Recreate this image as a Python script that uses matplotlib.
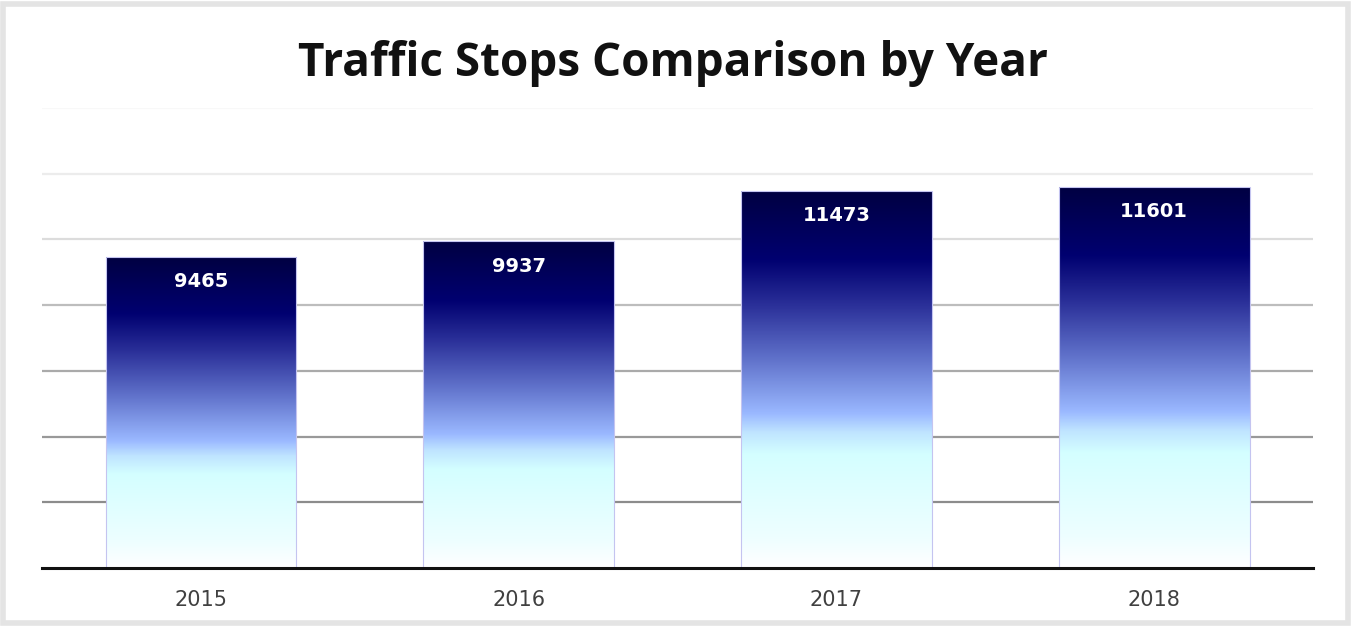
import numpy as np
import matplotlib
matplotlib.use('Agg')
import matplotlib.pyplot as plt
from matplotlib.colors import LinearSegmentedColormap
from matplotlib.patches import Rectangle

years = ['2015', '2016', '2017', '2018']
stops = [9465, 9937, 11473, 11601]
grid_levels = [2000, 4000, 6000, 8000, 10000, 12000, 14000]
grid_colors = ['#8c8c8c', '#999999', '#aaaaaa', '#bdbdbd', '#dcdcdc', '#ececec', '#f8f8f8']

plt.rcParams['font.family'] = ['Open Sans', 'DejaVu Sans']

# gradient, bottom -> top
bar_cmap = LinearSegmentedColormap.from_list('bars', [
    (0.0, '#ffffff'),
    (0.08, '#eefeff'),
    (0.30, '#d4ffff'),
    (0.36, '#bfe4ff'),
    (0.41, '#9ab8ff'),
    (0.55, '#6274cc'),
    (0.70, '#2a2f98'),
    (0.82, '#000070'),
    (1.0, '#000042'),
])

fig = plt.figure(figsize=(13.53, 6.26), dpi=100)
fig.patch.set_facecolor('white')
ax = fig.add_axes([0.031, 0.0927, 0.9395, 0.7348])

x = np.arange(len(years))
bars = ax.bar(x, stops, width=0.6, color='none', edgecolor='#c4c4f0', linewidth=0.8, zorder=3)

grad = np.linspace(0, 1, 256).reshape(-1, 1)
for b in bars:
    x0 = b.get_x()
    w = b.get_width()
    h = b.get_height()
    im = ax.imshow(grad, cmap=bar_cmap, origin='lower', aspect='auto',
                   extent=(x0, x0 + w, 0, h), zorder=2)
    im.set_clip_path(b)

for lvl, c in zip(grid_levels, grid_colors):
    ax.axhline(lvl, color=c, linewidth=1.6, zorder=1)

for xi, v in zip(x, stops):
    ax.text(xi, v - 750, str(v), ha='center', va='center', color='white',
            fontsize=14, fontweight='bold', family='DejaVu Sans', zorder=4)

ax.set_xlim(-0.5, 3.5)
ax.set_ylim(0, 14000)
ax.set_xticks(x)
ax.set_xticklabels(years, fontsize=15, color='#404040', family='DejaVu Sans')
ax.tick_params(axis='x', length=0, pad=16)
ax.set_yticks([])
for s in ['left', 'right', 'top']:
    ax.spines[s].set_visible(False)
ax.spines['bottom'].set_color('#111111')
ax.spines['bottom'].set_linewidth(2.2)
ax.spines['bottom'].set_zorder(5)
ax.set_facecolor('none')

fig.text(0.497, 0.898, 'Traffic Stops Comparison by Year', ha='center', va='center',
         fontsize=33, fontweight='bold', color='#111111')

fig.patches.append(Rectangle((0.0025, 0.004), 0.994, 0.99, transform=fig.transFigure,
                             fill=False, edgecolor='#e4e4e4', linewidth=4))

plt.savefig('out.png', dpi=100)
